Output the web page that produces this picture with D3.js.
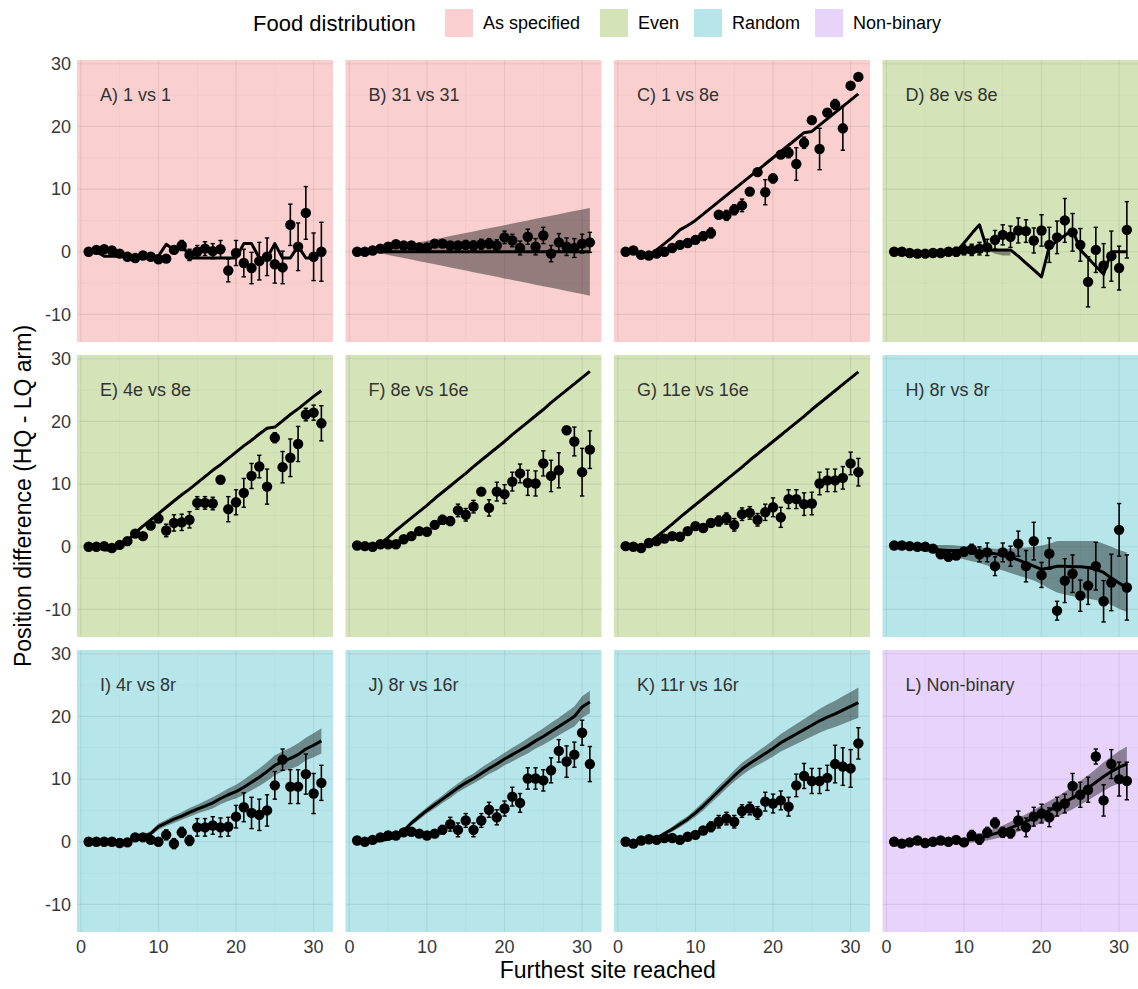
<!DOCTYPE html>
<html>
<head>
<meta charset="utf-8">
<script src="https://cdn.jsdelivr.net/npm/d3@7"></script>
<style>
  body { margin: 0; background: #fff; }
  text { font-family: "Liberation Sans", Arial, sans-serif; }
</style>
</head>
<body>
<div id="chart"></div>
<script>
// furthest site reached (x) for every panel
const sites = [1,2,3,4,5,6,7,8,9,10,11,12,13,14,15,16,17,18,19,20,21,22,23,24,25,26,27,28,29,30,31];

const groups = ["As specified", "Even", "Random", "Non-binary"];
const groupFill = ["#f9cfcf", "#d4e3b8", "#b6e6e9", "#e8d4fb"];

const xMajor = [0, 10, 20, 30];
const xMinor = [5, 15, 25];
const yMajor = [-10, 0, 10, 20, 30];
const yMinor = [-5, 5, 15, 25];

// observed means, error half-widths, model line, optional ribbon
const meanA = [0,0.3,0.4,0.2,-0.3,-0.8,-1,-0.6,-0.8,-1.2,-1.1,0.3,1.0,-0.5,0,0.5,0.1,0.4,-3.0,-0.2,-1.8,-2.6,-1.5,-0.8,-2.0,-2.5,4.3,0.8,6.2,-0.8,0];
const errA = [0.2,0.3,0.3,0.3,0.3,0.3,0.3,0.4,0.4,0.4,0.5,0.6,0.8,0.9,1.0,1.1,1.2,1.4,1.8,2.0,2.2,2.5,3.0,3.0,3.0,2.6,3.3,3.8,4.2,3.8,4.7];
const lineA = [0,0,-0.7,-0.7,-0.7,-0.7,-0.7,-0.7,-0.7,-0.7,1.2,0.3,1.4,-1,-1,-1,-1,-1,-1,-1,1.3,1.3,-1,-1,1.3,-1,-1,0.9,-1,-1,0];

const meanB = [0,0,0.2,0.5,0.8,1.2,1.0,1.0,0.7,0.7,1.3,1.3,1.0,1.0,1.1,1.0,1.2,1.3,1.0,2.3,1.8,0.6,2.4,0.8,2.6,-0.3,1.5,0.8,0.6,1.3,1.5];
const errB = [0.1,0.2,0.3,0.3,0.4,0.4,0.4,0.4,0.5,0.5,0.5,0.5,0.6,0.6,0.7,0.7,0.8,0.8,0.9,1.0,1.0,1.1,1.2,1.3,1.3,1.3,1.4,1.4,1.5,1.5,1.6];
const lineB = [0,0,0,0,0,0,0,0,0,0,0,0,0,0,0,0,0,0,0,0,0,0,0,0,0,0,0,0,0,0,0];
const bandB = [null,null,0,0.25,0.5,0.75,1,1.25,1.5,1.75,2,2.25,2.5,2.75,3,3.25,3.5,3.75,4,4.25,4.5,4.75,5,5.25,5.5,5.75,6,6.25,6.5,6.75,7];

const meanC = [0,0.2,-0.5,-0.6,-0.3,0,0.6,1.1,1.4,1.9,2.5,3.0,5.9,5.8,6.7,7.4,9.6,12.7,9.5,11.7,15.5,15.8,14.0,17.4,21.0,16.4,22.2,23.5,19.7,26.5,27.9];
const errC = [0.2,0.2,0.3,0.3,0.3,0.4,0.5,0.5,0.6,0.6,0.7,0.8,0.5,0.8,0.8,1.0,0.6,0.5,2.0,0.7,0.5,0.8,2.6,0.9,0.5,3.3,0.6,0.8,3.5,0.5,0.4];
const lineC = [0,0,-0.8,-0.8,0.3,1.3,2.3,3.5,4.2,5,6,7,8,9,10,11,12,13,14,15,16,17,18,19,19.2,20.2,21.2,22.2,23.2,24.2,25.2];

const meanD = [0,0,-0.2,-0.3,-0.3,-0.2,-0.2,0,0,0.3,0.3,0.5,0.7,1.9,2.7,2.4,3.4,3.3,1.8,3.4,1.1,2.3,5.0,3.1,1.1,-4.8,0.3,-2.2,-0.7,-2.6,3.5];
const errD = [0.2,0.3,0.3,0.3,0.4,0.4,0.5,0.6,0.7,0.8,0.9,1.0,1.3,1.5,1.6,1.7,2.0,1.8,2.0,2.5,2.8,2.6,3.5,3.0,2.6,4.0,3.6,3.5,4.0,3.5,4.5];
const lineD = [0,0,-0.6,-0.6,-0.3,0,0,0,0,1.4,2.9,4.3,0.3,0.3,0.3,0.3,-0.7,-1.8,-2.9,-4,0.8,1.7,2.6,3.5,0.3,-1,-2.3,-3.6,0,0,0];
const ribHiD = [null,null,null,null,null,null,null,null,null,null,null,null,0.3,0.3,0.3,0.3,null,null,null,null,null,null,null,null,null,null,null,null,null,null,null];
const ribLoD = [null,null,null,null,null,null,null,null,null,null,null,null,0.3,-0.3,-0.6,-0.6,null,null,null,null,null,null,null,null,null,null,null,null,null,null,null];

const meanE = [0,0,0.1,-0.2,0.3,0.9,2.1,1.7,3.4,4.5,2.6,3.8,3.9,4.3,7.0,7.0,6.9,10.7,6.0,7.1,8.6,11.3,12.8,9.6,17.4,12.7,14.2,16.4,21.1,21.4,19.7];
const errE = [0.2,0.2,0.3,0.3,0.3,0.4,0.4,0.4,0.5,0.5,1.0,1.3,1.3,1.3,1.0,1.0,1.0,0.5,2.0,2.0,2.3,2.0,1.8,2.8,0.8,2.5,3.0,2.8,1.0,1.2,2.8];
const lineE = [0,0,-0.5,-0.5,0,1.0,2.2,3.3,4.3,5.3,6.3,7.3,8.3,9.2,10.2,11.2,12.2,13.1,14.1,15.1,16.1,17.0,18.0,18.9,19.1,20.1,21.1,22.0,23.0,24.0,24.9];

const meanF = [0.2,0.1,0,0.4,0.4,0.4,1.2,1.7,2.5,2.4,3.5,4.3,4.1,5.8,5.1,6.4,8.8,6.2,8.8,8.4,10.4,11.7,10.2,10.1,13.3,11.3,12.2,18.6,16.8,11.9,15.5];
const errF = [0.2,0.2,0.3,0.4,0.3,0.3,0.4,0.4,0.5,0.5,0.6,0.7,0.7,1.0,1.0,1.0,0.4,1.3,1.5,1.5,1.5,1.5,2.0,2.0,2.0,2.5,2.8,0.4,2.3,3.8,3.0];
const lineF = [0,0,0,0.5,1.5,2.6,3.6,4.6,5.6,6.6,7.7,8.7,9.7,10.7,11.7,12.8,13.8,14.8,15.8,16.8,17.9,18.9,19.9,20.9,21.9,23.0,24.0,25.0,26.0,27.0,28.0];

const meanG = [0.1,0,-0.2,0.6,0.9,1.3,1.7,1.6,2.5,3.3,3.0,3.8,4.1,4.5,3.5,5.2,5.4,4.3,5.5,6.3,4.7,7.6,7.6,6.8,6.9,10.1,10.6,10.6,11.0,13.3,11.9];
const errG = [0.2,0.2,0.3,0.3,0.3,0.4,0.4,0.4,0.5,0.5,0.6,0.6,0.8,0.9,1.0,1.0,1.0,1.0,1.3,1.5,1.6,1.5,1.5,1.8,1.8,1.8,1.8,1.8,1.8,1.8,2.2];
const lineG = [0,0,0,0.6,1.6,2.6,3.6,4.7,5.7,6.7,7.7,8.7,9.7,10.7,11.7,12.7,13.8,14.8,15.8,16.8,17.8,18.8,19.8,20.8,21.9,22.9,23.9,24.9,25.9,26.9,27.9];

const meanH = [0.2,0.2,0.1,0,0,-0.3,-1.2,-1.6,-1.4,-0.8,-0.4,-1.2,-0.9,-3.1,-0.9,-1.5,0.5,-3.1,0.9,-4.5,-1.1,-10.2,-5.4,-4.3,-7.8,-6.2,-3.1,-8.7,-5.7,2.7,-6.5];
const errH = [0.2,0.2,0.3,0.3,0.3,0.4,0.5,0.5,0.6,0.7,0.8,1.2,1.5,1.5,1.5,1.6,2.0,2.5,3.0,2.0,2.5,1.5,3.5,3.0,2.5,3.0,3.8,3.3,4.5,4.2,5.2];
const lineH = [0,0,0,-0.1,-0.2,-0.4,-0.5,-0.6,-0.6,-0.6,-0.7,-0.7,-0.9,-1.1,-1.4,-1.7,-2.1,-2.6,-3.1,-3.6,-3.4,-3.1,-3.1,-3.2,-3.2,-3.3,-3.6,-4.1,-5.0,-5.8,-6.5];
const ribHiH = [0,0,0.1,0.2,0.3,0.3,0.3,0.3,0.2,0.1,0,-0.1,-0.2,-0.3,-0.3,-0.3,-0.2,-0.1,0,0.2,0.5,0.9,0.9,0.9,0.9,0.9,0.9,0.5,0,-0.5,-0.9];
const ribLoH = [0,-0.2,-0.4,-0.6,-0.8,-1.0,-1.3,-1.6,-1.8,-2.0,-2.3,-2.6,-3.0,-3.4,-3.8,-4.2,-4.6,-5.0,-5.4,-6.0,-6.7,-7.3,-7.6,-7.9,-8.1,-8.3,-8.5,-8.8,-9.3,-9.9,-10.4];

const meanI = [0,0,0,0,-0.2,-0.1,0.7,0.7,0.3,0,1.1,-0.3,1.5,0.2,2.3,2.3,2.6,2.3,2.4,4.0,5.5,4.6,4.3,5.0,9.0,13.1,8.8,8.8,10.8,7.7,9.4];
const errI = [0.2,0.2,0.2,0.2,0.3,0.3,0.3,0.4,0.4,0.5,0.8,0.8,0.8,0.8,1.4,1.4,1.4,1.5,1.5,1.8,2.3,2.5,2.5,2.5,2.2,1.7,2.7,2.7,3.2,3.2,2.8];
const lineI = [0,0,0,0,0,0,0.7,0.8,1.3,2.4,3.0,3.6,4.1,4.7,5.2,5.7,6.2,6.9,7.5,8.0,8.7,9.5,10.3,11.2,12.2,12.8,13.3,13.9,14.8,15.4,16.1];
const bandI = [0,0,0,0,0,0,0.2,0.3,0.4,0.5,0.5,0.6,0.6,0.7,0.7,0.8,0.9,0.9,1.0,1.1,1.2,1.3,1.4,1.5,1.6,1.6,1.7,1.8,1.8,1.9,2.0];

const meanJ = [0.2,0,0.3,0.7,1.0,1.0,1.5,1.6,1.3,1.0,1.3,1.9,2.8,1.9,3.4,1.9,3.4,5.1,3.9,5.3,7.2,6.2,10.1,10.1,9.8,11.4,14.5,12.8,13.9,17.4,12.4];
const errJ = [0.2,0.2,0.3,0.3,0.3,0.4,0.4,0.4,0.5,0.5,0.6,0.7,1.1,1.1,1.1,1.1,1.1,1.2,1.2,1.2,1.5,1.5,1.7,1.7,1.7,2.0,1.8,2.5,2.0,2.0,2.8];
const lineJ = [0,0,0,0.2,0.4,0.8,1.8,3.0,4.0,5.0,5.9,6.8,7.7,8.6,9.4,10.1,10.9,11.7,12.4,13.2,13.9,14.6,15.3,16.1,16.8,17.6,18.4,19.2,20.0,21.5,22.3];
const bandJ = [0,0,0,0,0,0.2,0.3,0.4,0.5,0.5,0.6,0.6,0.7,0.7,0.8,0.8,0.9,0.9,1.0,1.0,1.1,1.1,1.2,1.2,1.3,1.4,1.4,1.5,1.6,1.7,1.8];

const meanK = [0,-0.3,0.2,0.4,0.3,0.6,0.6,0.3,0.8,1.1,1.8,2.4,3.2,3.7,3.2,4.9,5.3,4.6,6.4,6.1,6.6,5.6,9.0,10.5,9.7,9.7,10.2,12.4,12.0,11.7,15.7];
const errK = [0.2,0.2,0.3,0.3,0.3,0.3,0.3,0.4,0.4,0.5,0.6,0.8,1.0,1.0,1.0,1.0,1.0,1.0,1.5,1.5,1.5,1.5,1.8,2.0,2.0,2.0,2.0,3.0,3.0,3.0,2.5];
const lineK = [0,0,0,0,0.6,1.3,2.0,2.8,3.6,4.6,5.7,6.9,8.1,9.3,10.5,11.6,12.5,13.3,14.1,14.9,15.8,16.5,17.2,17.9,18.6,19.3,19.9,20.4,21.0,21.6,22.2];
const bandK = [0,0,0,0,0.2,0.3,0.4,0.5,0.5,0.6,0.7,0.7,0.8,0.8,0.9,1.0,1.0,1.1,1.2,1.3,1.4,1.5,1.6,1.7,1.8,1.9,2.0,2.1,2.2,2.3,2.4];

const meanL = [0,-0.3,-0.1,0.2,-0.2,0,0.2,0,0.3,-0.1,1.0,0.4,1.5,3.0,1.5,1.4,3.4,2.3,4.0,4.5,3.9,5.6,6.1,8.9,7.5,8.3,13.6,6.6,12.4,10.0,9.7];
const errL = [0.2,0.2,0.2,0.3,0.3,0.3,0.3,0.3,0.4,0.4,0.8,0.8,0.8,0.8,0.8,0.8,1.5,1.5,1.5,1.5,1.5,1.5,1.5,2.0,2.0,2.0,1.2,2.5,2.3,2.7,3.0];
const lineL = [0,-0.2,-0.2,-0.1,-0.1,0,0,0,0,0.2,0.4,0.6,0.9,1.3,1.7,2.2,2.7,3.2,3.8,4.4,5.0,5.6,6.3,7.0,7.8,8.6,9.5,10.4,11.2,11.9,12.4];
const bandL = [0,0,0,0,0,0,0,0.2,0.3,0.4,0.5,0.6,0.7,0.8,0.9,1.0,1.1,1.2,1.3,1.4,1.5,1.6,1.7,1.8,1.9,2.0,2.1,2.3,2.4,2.6,2.8];

const panels = [
  { title: "A) 1 vs 1", group: 0, mean: meanA, err: errA, line: lineA },
  { title: "B) 31 vs 31", group: 0, mean: meanB, err: errB, line: lineB, band: bandB },
  { title: "C) 1 vs 8e", group: 0, mean: meanC, err: errC, line: lineC },
  { title: "D) 8e vs 8e", group: 1, mean: meanD, err: errD, line: lineD, ribHi: ribHiD, ribLo: ribLoD },
  { title: "E) 4e vs 8e", group: 1, mean: meanE, err: errE, line: lineE },
  { title: "F) 8e vs 16e", group: 1, mean: meanF, err: errF, line: lineF },
  { title: "G) 11e vs 16e", group: 1, mean: meanG, err: errG, line: lineG },
  { title: "H) 8r vs 8r", group: 2, mean: meanH, err: errH, line: lineH, ribHi: ribHiH, ribLo: ribLoH },
  { title: "I) 4r vs 8r", group: 2, mean: meanI, err: errI, line: lineI, band: bandI },
  { title: "J) 8r vs 16r", group: 2, mean: meanJ, err: errJ, line: lineJ, band: bandJ },
  { title: "K) 11r vs 16r", group: 2, mean: meanK, err: errK, line: lineK, band: bandK },
  { title: "L) Non-binary", group: 3, mean: meanL, err: errL, line: lineL, band: bandL }
];

const width = 1138, height = 989;
const left0 = 77, top0 = 60;
const pw = 256, ph = 282;
const colStep = 268.5, rowStep = 295;
const tickColor = "#383838";

const svg = d3.select("#chart").append("svg")
  .attr("width", width).attr("height", height);

const x = d3.scaleLinear().domain([-0.5, 32.5]).range([0, pw]);
const y = d3.scaleLinear().domain([-14.4, 30.6]).range([ph, 0]);

panels.forEach(function (p, i) {
  const col = i % 4, row = Math.floor(i / 4);
  const g = svg.append("g")
    .attr("transform", "translate(" + (left0 + col * colStep) + "," + (top0 + row * rowStep) + ")");

  g.append("rect").attr("width", pw).attr("height", ph).attr("fill", groupFill[p.group]);

  // grid
  g.selectAll(".gx-minor").data(xMinor).enter().append("line")
    .attr("x1", d => x(d)).attr("x2", d => x(d)).attr("y1", 0).attr("y2", ph)
    .attr("stroke", "rgba(0,0,0,0.045)").attr("stroke-width", 0.7);
  g.selectAll(".gy-minor").data(yMinor).enter().append("line")
    .attr("y1", d => y(d)).attr("y2", d => y(d)).attr("x1", 0).attr("x2", pw)
    .attr("stroke", "rgba(0,0,0,0.045)").attr("stroke-width", 0.7);
  g.selectAll(".gx-major").data(xMajor).enter().append("line")
    .attr("x1", d => x(d)).attr("x2", d => x(d)).attr("y1", 0).attr("y2", ph)
    .attr("stroke", "rgba(0,0,0,0.07)").attr("stroke-width", 1.2);
  g.selectAll(".gy-major").data(yMajor).enter().append("line")
    .attr("y1", d => y(d)).attr("y2", d => y(d)).attr("x1", 0).attr("x2", pw)
    .attr("stroke", "rgba(0,0,0,0.07)").attr("stroke-width", 1.2);

  const rows = sites.map((s, k) => ({
    site: s,
    mean: p.mean[k],
    err: p.err[k],
    line: p.line[k],
    lo: p.band ? (p.band[k] == null ? null : p.line[k] - p.band[k]) : (p.ribLo ? p.ribLo[k] : null),
    hi: p.band ? (p.band[k] == null ? null : p.line[k] + p.band[k]) : (p.ribHi ? p.ribHi[k] : null)
  }));

  if (p.band || p.ribLo) {
    const area = d3.area()
      .defined(d => d.lo != null)
      .x(d => x(d.site)).y0(d => y(d.lo)).y1(d => y(d.hi));
    g.append("path").datum(rows).attr("d", area)
      .attr("fill", "#000").attr("fill-opacity", 0.4);
  }

  // error bars
  const eb = g.selectAll(".eb").data(rows).enter().append("g");
  eb.append("line")
    .attr("x1", d => x(d.site)).attr("x2", d => x(d.site))
    .attr("y1", d => y(d.mean - d.err)).attr("y2", d => y(d.mean + d.err))
    .attr("stroke", "#000").attr("stroke-width", 1.6);
  [-1, 1].forEach(function (s) {
    eb.append("line")
      .attr("x1", d => x(d.site) - 2.2).attr("x2", d => x(d.site) + 2.2)
      .attr("y1", d => y(d.mean + s * d.err)).attr("y2", d => y(d.mean + s * d.err))
      .attr("stroke", "#000").attr("stroke-width", 1.4);
  });

  g.selectAll(".pt").data(rows).enter().append("circle")
    .attr("cx", d => x(d.site)).attr("cy", d => y(d.mean))
    .attr("r", 5.2).attr("fill", "#000");

  const line = d3.line().x(d => x(d.site)).y(d => y(d.line));
  g.append("path").datum(rows).attr("d", line)
    .attr("fill", "none").attr("stroke", "#000").attr("stroke-width", 3)
    .attr("stroke-linejoin", "round");

  g.append("text").attr("x", 23).attr("y", 41)
    .attr("font-size", 18).attr("fill", "#333").text(p.title);

  // y tick labels on first column
  if (col === 0) {
    g.selectAll(".yt").data(yMajor).enter().append("text")
      .attr("x", -6).attr("y", d => y(d)).attr("dy", "0.35em")
      .attr("text-anchor", "end").attr("font-size", 18).attr("fill", tickColor)
      .text(d => d);
  }
  // x tick labels on bottom row
  if (row === 2) {
    g.selectAll(".xt").data(xMajor).enter().append("text")
      .attr("x", d => x(d)).attr("y", ph + 21)
      .attr("text-anchor", "middle").attr("font-size", 18).attr("fill", tickColor)
      .text(d => d);
  }
});

// axis titles
svg.append("text")
  .attr("x", left0 + (3 * colStep + pw) / 2).attr("y", 978)
  .attr("text-anchor", "middle").attr("font-size", 23).attr("fill", "#000")
  .text("Furthest site reached");

svg.append("text")
  .attr("transform", "translate(31," + (top0 + (2 * rowStep + ph) / 2) + ") rotate(-90)")
  .attr("text-anchor", "middle").attr("font-size", 23).attr("fill", "#000")
  .text("Position difference (HQ - LQ arm)");

// legend
const legend = svg.append("g").attr("transform", "translate(0,23)");
legend.append("text").attr("x", 253).attr("y", 0).attr("dy", "0.35em")
  .attr("font-size", 22).attr("fill", "#000").text("Food distribution");

const keyX = [445, 600, 694, 815];
groups.forEach(function (gname, k) {
  legend.append("rect").attr("x", keyX[k]).attr("y", -14).attr("width", 28).attr("height", 28)
    .attr("fill", groupFill[k]);
  legend.append("text").attr("x", keyX[k] + 38).attr("y", 0).attr("dy", "0.35em")
    .attr("font-size", 18).attr("fill", "#000").text(gname);
});
</script>
</body>
</html>
